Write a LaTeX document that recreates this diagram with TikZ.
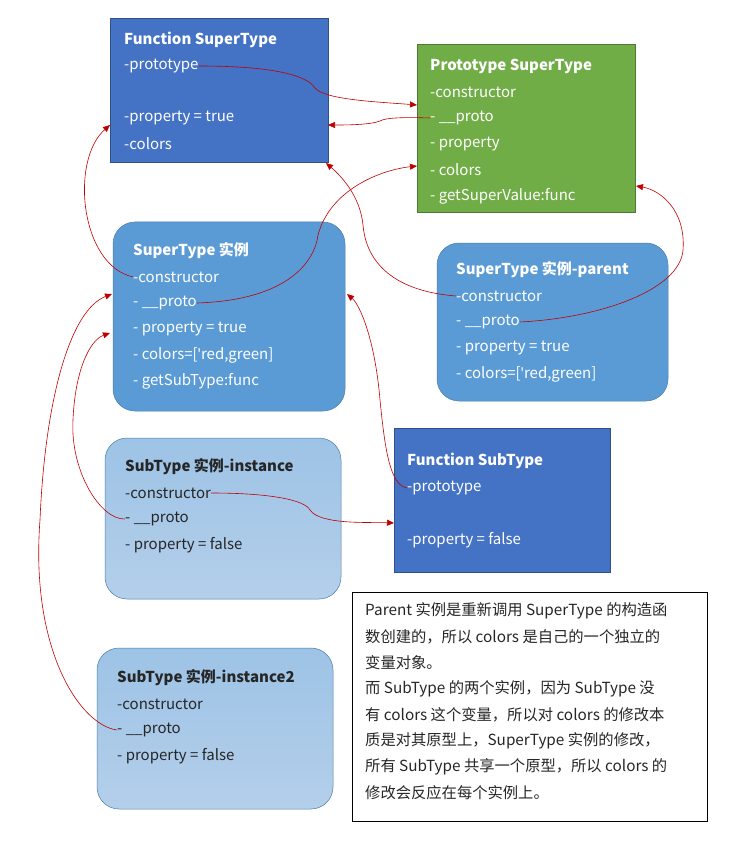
\documentclass[tikz,border=0pt]{standalone}
\usepackage{fontspec}
\setmainfont{Noto Sans CJK SC}
\newfontfamily\latinf{Noto Sans}
\usetikzlibrary{arrows.meta,shadings}
\definecolor{dblue}{HTML}{4472C4}
\definecolor{mblue}{HTML}{5B9BD5}
\definecolor{lblue}{HTML}{9DC3E6}
\definecolor{lblue2}{HTML}{B4CFEA}
\definecolor{pgreen}{HTML}{70AD47}
\definecolor{ared}{HTML}{C00000}
\newcommand{\apo}{{\latinf '}}
\begin{document}
\begin{tikzpicture}[x=1pt,y=-1pt,
  sqbox/.style={draw=dblue!70!black,line width=1pt},
  rbox/.style={rounded corners=22pt,draw=mblue!80!black,line width=0.5pt},
  ln/.style={anchor=west,inner sep=0pt,font=\fontsize{15}{17}\selectfont,text=white},
  hd/.style={ln,font=\fontsize{15}{17}\selectfont\bfseries},
  dk/.style={ln,text=black!85},
  dkh/.style={hd,text=black!85},
  nt/.style={dk,font=\fontsize{15.3}{17}\selectfont},
  arr/.style={draw=ared,line width=0.6pt,-{Triangle[length=7pt,width=6pt]}}]
\useasboundingbox (0,0) rectangle (738,842);
% boxes
\fill[dblue,sqbox] (110,19) rectangle (328,163);
\fill[pgreen,draw=pgreen!70!black,line width=1pt] (417,45) rectangle (635,213);
\fill[mblue,rbox] (113,222) rectangle (345,411);
\fill[mblue,rbox] (437,243) rectangle (668,401);
\shade[top color=lblue,bottom color=lblue2,rbox] (105,438) rectangle (341,599);
\fill[dblue,sqbox] (394,428) rectangle (610,572);
\shade[top color=lblue,bottom color=lblue2,rbox] (97,648) rectangle (333,809);
\draw[black,line width=0.6pt] (352,592) rectangle (707,821);
% Function SuperType
\node[hd] (fs0) at (124,40) {Function SuperType};
\node[ln] (fs1) at (124,66) {-prototype};
\node[ln] (fs2) at (124,118) {-property = true};
\node[ln] (fs3) at (124,144) {-colors};
\coordinate (fsL) at (110,125);
\coordinate (fsR) at (328,125);
\coordinate (fsB) at (326,163);
% Prototype SuperType
\node[hd] (ps0) at (430,66) {Prototype SuperType};
\node[ln] (ps1) at (430,92) {-constructor};
\node[ln] (ps2) at (430,118) {- \_\_proto};
\node[ln] (ps3) at (430,144) {- property};
\node[ln] (ps4) at (430,170) {- colors};
\node[ln] (ps5) at (430,196) {- getSuperValue:func};
\coordinate (psL1) at (417,105);
\coordinate (psL2) at (417,166);
\coordinate (psR) at (636,186);
% SuperType instance
\node[hd] (si0) at (133,251) {SuperType 实例};
\node[ln] (si1) at (133,277) {-constructor};
\node[ln] (si2) at (133,303) {- \_\_proto};
\node[ln] (si3) at (133,329) {- property = true};
\node[ln] (si4) at (133,355) {- colors=[\apo red,green]};
\node[ln] (si5) at (133,381) {- getSubType:func};
\coordinate (siL1) at (112,294);
\coordinate (siL2) at (110,333);
\coordinate (siR) at (347,294);
% parent
\node[hd] (pa0) at (456,270) {SuperType 实例-parent};
\node[ln] (pa1) at (456,296) {-constructor};
\node[ln] (pa2) at (456,322) {- \_\_proto};
\node[ln] (pa3) at (456,348) {- property = true};
\node[ln] (pa4) at (456,374) {- colors=[\apo red,green]};
% SubType instance
\node[dkh] (su0) at (125,467) {SubType 实例-instance};
\node[dk] (su1) at (125,493) {-constructor};
\node[dk] (su2) at (125,519) {- \_\_proto};
\node[dk] (su3) at (125,545) {- property = false};
% Function SubType
\node[hd] (fb0) at (407,461) {Function SubType};
\node[ln] (fb1) at (407,488) {-prototype};
\node[ln] (fb2) at (407,540) {-property = false};
\coordinate (fbL) at (394,523);
% SubType instance2
\node[dkh] (sv0) at (117,678) {SubType 实例-instance2};
\node[dk] (sv1) at (117,704) {-constructor};
\node[dk] (sv2) at (117,730) {- \_\_proto};
\node[dk] (sv3) at (117,756) {- property = false};
% note
\node[nt] (n1) at (365,611) {Parent 实例是重新调用 SuperType 的构造函};
\node[nt] (n2) at (365,637) {数创建的，所以 colors 是自己的一个独立的};
\node[nt] (n3) at (365,663) {变量对象。};
\node[nt] (n4) at (365,689) {而 SubType 的两个实例，因为 SubType 没};
\node[nt] (n5) at (365,715) {有 colors 这个变量，所以对 colors 的修改本};
\node[nt] (n6) at (365,741) {质是对其原型上，SuperType 实例的修改，};
\node[nt] (n7) at (365,767) {所有 SubType 共享一个原型，所以 colors 的};
\node[nt] (n8) at (365,793) {修改会反应在每个实例上。};
% arrows
\draw[arr] (fs1.east) .. controls (290,66) and (310,80) .. (315,88) .. controls (325,100) and (380,102) .. (psL1);
\draw[arr] (ps2.west) .. controls (400,117) and (385,118) .. (380,121) .. controls (370,125) and (345,125) .. (fsR);
\draw[arr] (si1.west) .. controls (80,265) and (70,160) .. (fsL);
\draw[arr] (si2.east) .. controls (290,300) and (315,260) .. (318,235) .. controls (330,190) and (380,170) .. (psL2);
\draw[arr] (pa1.west) .. controls (380,290) and (365,250) .. (363,225) .. controls (360,195) and (340,175) .. (fsB);
\draw[arr] (pa2.east) .. controls (600,318) and (680,290) .. (683,250) .. controls (686,210) and (660,190) .. (psR);
\draw[arr] (sv2.west) .. controls (80,725) and (30,650) .. (40,520) .. controls (45,400) and (70,310) .. (siL1);
\draw[arr] (su2.west) .. controls (100,520) and (70,470) .. (73,420) .. controls (75,370) and (90,340) .. (siL2);
\draw[arr] (su1.east) .. controls (270,493) and (305,500) .. (310,510) .. controls (320,525) and (370,522) .. (fbL);
\draw[arr] (fb1.west) .. controls (390,485) and (385,450) .. (380,400) .. controls (375,340) and (360,305) .. (siR);
\end{tikzpicture}
\end{document}
